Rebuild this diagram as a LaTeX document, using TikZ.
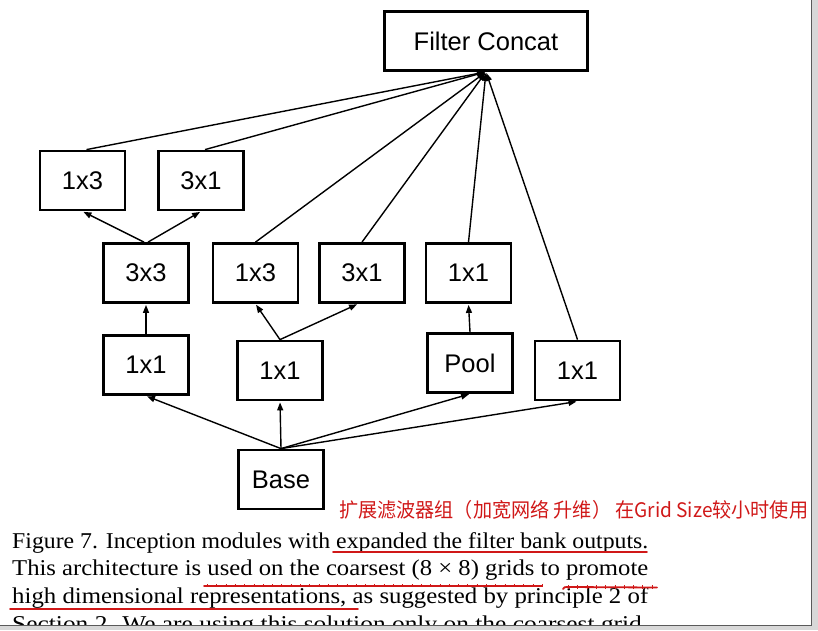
\documentclass[tikz,border=0pt]{standalone}
\usepackage{fontspec}
\setmainfont{Liberation Sans}
\newfontfamily\capfont{Liberation Serif}
\newfontfamily\cjkfont{Noto Sans CJK SC}
\usetikzlibrary{arrows.meta,positioning,calc}
\definecolor{cpen}{HTML}{D01818}
\definecolor{cframe}{HTML}{5A5A5A}
\definecolor{cshade}{HTML}{D8D8D8}

\begin{document}
\begin{tikzpicture}[
  x=1pt, y=-1pt,
  font=\fontsize{25.5}{28}\selectfont,
  blk/.style={draw, line width=2.8pt, minimum width=85pt, minimum height=59pt, inner sep=0pt},
  flow/.style={-{Triangle[length=8pt,width=6pt]}, line width=1.4pt, shorten >=1pt},
  capl/.style={anchor=base west, inner sep=0pt, font=\capfont\fontsize{22.6}{27}\selectfont},
  pen/.style={draw=cpen, line width=1.8pt, line cap=round},
  ticks/.style={draw=cpen, line width=3.6pt, dash pattern=on 0.8pt off 8.5pt},
]
\newcommand{\capline}[1]{\resizebox{636pt}{\height}{#1}}
\useasboundingbox (0,0) rectangle (818,630);

% ------------------------------------------------------------------ output
\node[blk, minimum width=203pt] (concat) at (486,41) {Filter Concat};

% ------------------------------------------------------------------ expanded 3x3 branch
\node[blk] (a13) at (82.5,180.5) {1x3};
\node[blk] (a31) at (201,180.5) {3x1};
\node[blk] (b33) at (146,273) {3x3};
\node[blk] (c11a) at (146,365) {1x1};

% ------------------------------------------------------------------ split 1x1 branch
\node[blk] (b13) at (255.5,273) {1x3};
\node[blk] (b31) at (362,273) {3x1};
\node[blk] (c11b) at (280,370.5) {1x1};

% ------------------------------------------------------------------ pool and plain 1x1
\node[blk] (b11) at (468.5,273) {1x1};
\node[blk] (pool) at (470,363) {Pool};
\node[blk] (c11c) at (577.5,370.5) {1x1};

% ------------------------------------------------------------------ input
\node[blk] (base) at (281,479.5) {Base};

% ------------------------------------------------------------------ connectors
\draw[flow] (base.north) -- (c11a.south);
\draw[flow] (base.north) -- (c11b.south);
\draw[flow] (base.north) -- (pool.south);
\draw[flow] (base.north) -- (c11c.south);
\draw[flow] (c11a.north) -- (b33.south);
\draw[flow] ([xshift=-2pt]b33.north) -- (a13.south);
\draw[flow] ([xshift=2pt]b33.north) -- (a31.south);
\draw[flow] (c11b.north) -- (b13.south);
\draw[flow] (c11b.north) -- ([xshift=-4pt]b31.south);
\draw[flow] (pool.north) -- (b11.south);
% every branch ends in the concat
\draw[flow] ([xshift=4pt]a13.north) -- (concat.south);
\draw[flow] ([xshift=4pt]a31.north) -- (concat.south);
\draw[flow] (b13.north) -- (concat.south);
\draw[flow] (b31.north) -- (concat.south);
\draw[flow] (b11.north) -- (concat.south);
\draw[flow] (c11c.north) -- (concat.south);

% ------------------------------------------------------------------ note and caption
\node[anchor=west, inner sep=0pt, text=cpen, font=\cjkfont\fontsize{20}{24}\selectfont] (note) at (339,510)
  {\resizebox{469pt}{\height}{扩展滤波器组（加宽网络 升维） 在Grid Size较小时使用}};
\node[capl] (cap1) at (12,548) {\capline{Figure 7. Inception modules with expanded the filter bank outputs.}};
\node[capl] (cap2) at (12,575.5) {\capline{This architecture is used on the coarsest (8 × 8) grids to promote}};
\node[capl] (cap3) at (12,603) {\capline{high dimensional representations, as suggested by principle 2 of}};
\begin{scope}
  \clip (0,0) rectangle (811,625);
  \node[capl] (cap4) at (12,631) {\capline{Section 2. We are using this solution only on the coarsest grid,}};
\end{scope}

% ------------------------------------------------------------------ underlines
\draw[pen] (333,552) -- (647,552);
\draw[pen] (204,586) -- (542,586);
\draw[ticks] (207,585.5) -- (542,585.5);
\draw[pen] (563,589) .. controls (564,587) .. (570,587) -- (657,587.5);
\draw[ticks] (568,587) -- (657,587);
\draw[pen] (10,609) -- (358,609);

% ------------------------------------------------------------------ frame
\fill[cshade] (812,0) rectangle (818,630);
\fill[cshade] (0,626) rectangle (818,630);
\draw[cframe, line width=1.5pt] (811.5,0) -- (811.5,625.5) -- (0,625.5);
\end{tikzpicture}
\end{document}
